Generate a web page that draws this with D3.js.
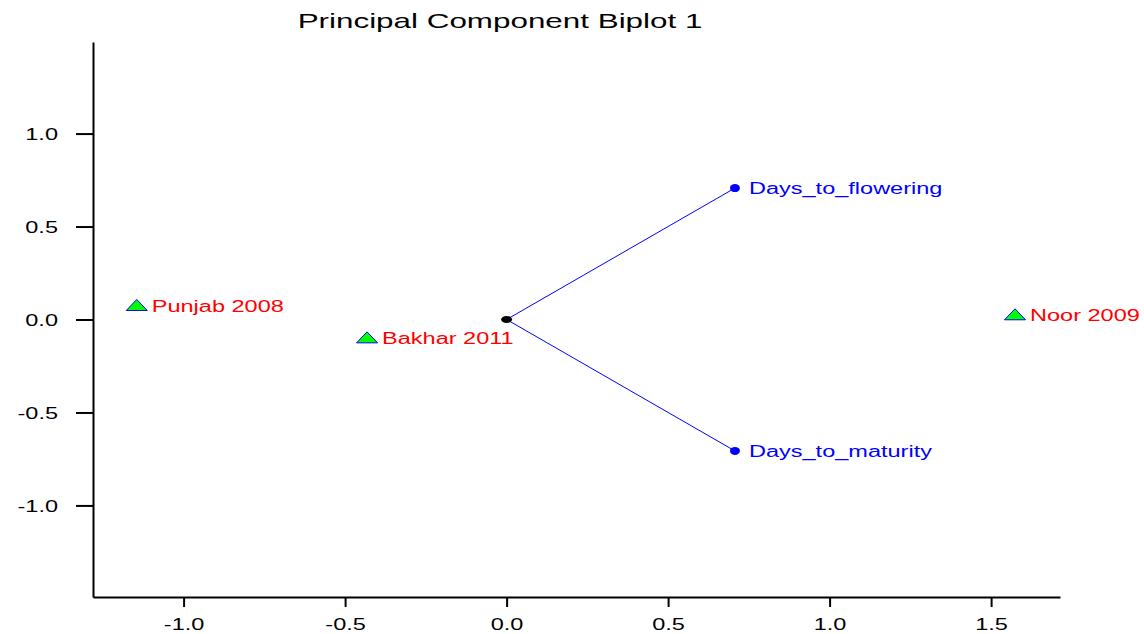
<!DOCTYPE html>
<html>
<head>
<meta charset="utf-8">
<script src="https://cdn.jsdelivr.net/npm/d3@7"></script>
<style>
  body { margin: 0; background: #fff; }
  text { font-family: "Liberation Sans", Arial, sans-serif; }
</style>
</head>
<body>
<script>
    const genotypes = ["Punjab 2008", "Bakhar 2011", "Noor 2009"];
    const genoPC1 = [-1.145, -0.432, 1.574];
    const genoPC2 = [0.078, -0.096, 0.028];

    const traits = ["Days_to_flowering", "Days_to_maturity"];
    const traitPC1 = [0.707, 0.707];
    const traitPC2 = [0.707, -0.707];

    const xTicks = [-1.0, -0.5, 0.0, 0.5, 1.0, 1.5];
    const yTicks = [-1.0, -0.5, 0.0, 0.5, 1.0];

    const width = 1144, height = 634;
    const plot = {left: 93, right: 1060, top: 42, bottom: 597};
    const sx = 1.47; // text in the reference is drawn wide
    const fs = '16px';

    const svg = d3.select('body').append('svg')
        .attr('width', width)
        .attr('height', height);

    const xScale = d3.scaleLinear()
        .domain([-1.2805, 1.7133])
        .range([plot.left, plot.right]);

    const yScale = d3.scaleLinear()
        .domain([-1.4925, 1.4925])
        .range([plot.bottom, plot.top]);

    // stretch a text horizontally around its anchor
    function stretch(sel, f) {
        sel.each(function() {
            const t = d3.select(this);
            const x = +t.attr('x') || 0, y = +t.attr('y') || 0;
            t.attr('x', 0).attr('y', 0)
                .attr('transform', `translate(${x},${y}) scale(${f},1)`);
        });
    }

    // axes (plain hyphen for minus, like the reference)
    const fmt = d => d.toFixed(1);

    const xAxis = d3.axisBottom(xScale)
        .tickValues(xTicks)
        .tickFormat(fmt)
        .tickSize(10)
        .tickSizeOuter(0)
        .tickPadding(12);

    const yAxis = d3.axisLeft(yScale)
        .tickValues(yTicks)
        .tickFormat(fmt)
        .tickSize(17)
        .tickSizeOuter(0)
        .tickPadding(18);

    const xg = svg.append('g')
        .attr('transform', `translate(0, ${plot.bottom})`)
        .call(xAxis);

    const yg = svg.append('g')
        .attr('transform', `translate(${plot.left}, 0)`)
        .call(yAxis);

    [xg, yg].forEach(g => {
        g.select('.domain').attr('stroke', '#000').attr('stroke-width', 2);
        g.selectAll('.tick line').attr('stroke', '#000').attr('stroke-width', 2);
        g.selectAll('.tick text')
            .attr('fill', '#000')
            .attr('font-size', fs)
            .attr('font-family', '"Liberation Sans", Arial, sans-serif');
    });
    xg.selectAll('.tick text').call(stretch, sx);
    yg.selectAll('.tick text').attr('dy', '0.4em').call(stretch, sx);

    // title
    svg.append('text')
        .attr('x', 500)
        .attr('y', 28)
        .attr('text-anchor', 'middle')
        .attr('font-size', '20px')
        .attr('fill', '#000')
        .text('Principal Component Biplot 1')
        .call(stretch, 1.57);

    // trait vectors
    const x0 = xScale(0), y0 = yScale(0);
    svg.selectAll('line.vec')
        .data(traits)
        .enter()
        .append('line')
            .attr('class', 'vec')
            .attr('x1', x0)
            .attr('y1', y0)
            .attr('x2', (d, i) => xScale(traitPC1[i]))
            .attr('y2', (d, i) => yScale(traitPC2[i]))
            .attr('stroke', '#0000ff')
            .attr('stroke-width', 1);

    svg.selectAll('ellipse.vec')
        .data(traits)
        .enter()
        .append('ellipse')
            .attr('class', 'vec')
            .attr('cx', (d, i) => xScale(traitPC1[i]))
            .attr('cy', (d, i) => yScale(traitPC2[i]))
            .attr('rx', 5)
            .attr('ry', 4)
            .attr('fill', '#0000ff');

    svg.append('ellipse')
        .attr('cx', x0)
        .attr('cy', y0)
        .attr('rx', 5.5)
        .attr('ry', 3.5)
        .attr('fill', '#000');

    svg.selectAll('text.trait')
        .data(traits)
        .enter()
        .append('text')
            .attr('class', 'trait')
            .attr('x', (d, i) => xScale(traitPC1[i]) + 14)
            .attr('y', (d, i) => yScale(traitPC2[i]) + 6)
            .attr('font-size', fs)
            .attr('fill', '#0000ff')
            .text(d => d)
            .call(stretch, sx);

    // genotype triangles
    const tri = 'M0,-5.5 L10.5,5.5 L-10.5,5.5 Z';
    svg.selectAll('path.geno')
        .data(genotypes)
        .enter()
        .append('path')
            .attr('class', 'geno')
            .attr('d', tri)
            .attr('transform', (d, i) => `translate(${xScale(genoPC1[i])}, ${yScale(genoPC2[i])})`)
            .attr('fill', '#00ff00')
            .attr('stroke', '#0000ff')
            .attr('stroke-width', 1);

    svg.selectAll('text.geno')
        .data(genotypes)
        .enter()
        .append('text')
            .attr('class', 'geno')
            .attr('x', (d, i) => xScale(genoPC1[i]) + 15)
            .attr('y', (d, i) => yScale(genoPC2[i]) + 7)
            .attr('font-size', fs)
            .attr('fill', '#ff0000')
            .text(d => d)
            .call(stretch, sx);
</script>
</body>
</html>
